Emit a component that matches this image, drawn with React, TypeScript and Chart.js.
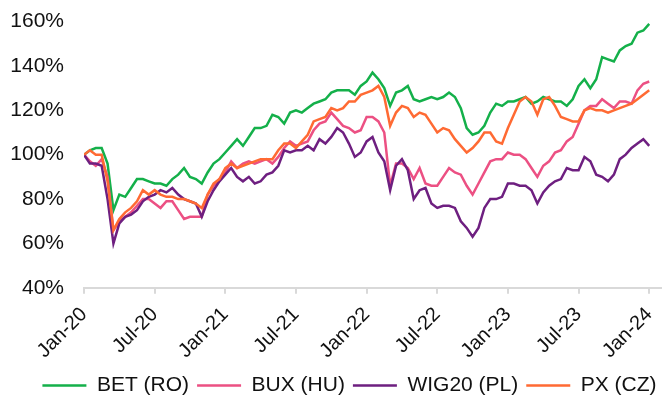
import React, { useEffect, useRef } from "react";
import { Chart, registerables } from "chart.js";

Chart.register(...registerables);

// Semi-monthly observations, Jan-2020 .. Jan-2024 (index i -> month i/2 since Jan-20)
const tickLabels = ["Jan-20", "Jul-20", "Jan-21", "Jul-21", "Jan-22", "Jul-22", "Jan-23", "Jul-23", "Jan-24"];

const betRO = [100, 102, 103, 103, 96, 75, 82, 81, 85, 89, 89, 88, 87, 87, 86, 89, 91, 94, 90, 89, 87, 92, 96, 98, 101, 104, 107, 104, 108, 112, 112, 113, 118, 117, 114, 119, 120, 119, 121, 123, 124, 125, 128, 129, 129, 129, 127, 131, 133, 137, 134, 130, 122, 128, 129, 131, 125, 124, 125, 126, 125, 126, 128, 126, 121, 112, 109, 110, 113, 119, 123, 122, 124, 124, 125, 126, 123, 124, 126, 125, 124, 124, 122, 125, 131, 134, 130, 134, 144, 143, 142, 147, 149, 150, 155, 156, 159];

const buxHU = [100, 97, 95, 98, 90, 66, 70, 72, 74, 77, 80, 80, 78, 76, 79, 79, 75, 71, 72, 72, 72, 82, 86, 89, 92, 97, 94, 96, 97, 96, 97, 98, 96, 99, 103, 106, 104, 105, 106, 111, 114, 115, 119, 116, 113, 112, 110, 111, 117, 117, 115, 110, 86, 96, 96, 94, 89, 94, 87, 86, 86, 90, 94, 92, 91, 86, 82, 87, 92, 97, 98, 98, 101, 100, 100, 98, 94, 90, 95, 97, 101, 102, 106, 108, 114, 120, 122, 122, 125, 123, 121, 124, 124, 123, 129, 132, 133];

const wig20PL = [100, 96, 96, 95, 80, 60, 69, 72, 73, 75, 79, 81, 82, 84, 83, 85, 82, 80, 79, 78, 72, 79, 84, 88, 91, 94, 90, 88, 90, 87, 88, 91, 92, 95, 102, 101, 102, 102, 104, 102, 107, 105, 108, 112, 110, 105, 99, 101, 106, 108, 101, 97, 84, 95, 98, 93, 80, 84, 85, 78, 76, 77, 77, 76, 70, 67, 63, 67, 76, 80, 80, 81, 87, 87, 86, 86, 84, 78, 83, 86, 88, 89, 94, 93, 93, 99, 97, 91, 90, 88, 91, 98, 100, 103, 105, 107, 104];

const pxCZ = [100, 102, 100, 100, 88, 66, 71, 74, 76, 79, 84, 82, 84, 82, 81, 81, 80, 80, 79, 78, 76, 82, 87, 89, 94, 96, 94, 95, 96, 97, 98, 98, 98, 102, 105, 105, 103, 106, 109, 115, 116, 117, 121, 120, 121, 124, 124, 127, 128, 129, 131, 126, 113, 119, 122, 121, 117, 119, 118, 114, 110, 112, 111, 107, 104, 101, 103, 106, 110, 110, 106, 105, 112, 118, 124, 126, 124, 118, 125, 126, 122, 117, 116, 115, 115, 120, 121, 120, 120, 119, 120, 121, 122, 123, 125, 127, 129];

const seriesNames = ["BET (RO)", "BUX (HU)", "WIG20 (PL)", "PX (CZ)"];
const seriesColors = ["#14b04a", "#ec5083", "#6e1f80", "#ff6a33"];

const toXY = (arr: number[]) => arr.map((v, i) => ({ x: i / 2, y: v }));

const legendShift = {
  id: "legendShift",
  afterLayout(chart: any) {
    const lg = chart.legend;
    if (lg) {
      lg.left += 14;
      lg.right += 14;
    }
  },
};

export default function App() {
  const ref = useRef<HTMLCanvasElement | null>(null);
  useEffect(() => {
    if (!ref.current) return;
    const font = "'Liberation Sans', Arial, sans-serif";
    const all = [betRO, buxHU, wig20PL, pxCZ];
    const chart = new Chart(ref.current, {
      type: "line",
      plugins: [legendShift],
      data: {
        datasets: all.map((arr, k) => ({
          label: seriesNames[k],
          data: toXY(arr),
          borderColor: seriesColors[k],
          backgroundColor: seriesColors[k],
          borderWidth: 2.5,
          pointRadius: 0,
          tension: 0,
          order: 4 - k,
        })),
      },
      options: {
        animation: false,
        responsive: true,
        maintainAspectRatio: false,
        parsing: false,
        layout: { padding: { left: 10, right: 3, top: 0, bottom: -5 } },
        plugins: {
          tooltip: { enabled: false },
          legend: {
            position: "bottom",
            labels: {
              sort: (a: any, b: any) => a.datasetIndex - b.datasetIndex,
              boxWidth: 44,
              boxHeight: 0,
              padding: 8,
              color: "#111",
              font: { size: 21, family: font },
            },
          },
        },
        scales: {
          x: {
            type: "linear",
            min: 0,
            max: 49,
            afterFit: (scale: any) => {
              scale.height = scale.height - 5;
              scale.paddingRight = 0;
              scale.paddingLeft = 0;
            },
            grid: { display: true, drawOnChartArea: false, drawTicks: true, tickLength: 6, color: "#d9d9d9", lineWidth: 2 },
            border: { display: true, color: "#d9d9d9", width: 2 },
            ticks: {
              stepSize: 6,
              includeBounds: false,
              autoSkip: false,
              maxRotation: 45,
              minRotation: 45,
              padding: 9,
              color: "#111",
              font: { size: 20, family: font },
              callback: (v: any) => {
                const idx = Number(v) / 6;
                return Number.isInteger(idx) ? tickLabels[idx] : null;
              },
            },
          },
          y: {
            min: 40,
            max: 160,
            afterFit: (scale: any) => {
              scale.width = 74;
            },
            grid: { display: false, drawTicks: true, tickLength: 11 },
            border: { display: false },
            ticks: {
              stepSize: 20,
              padding: 9,
              color: "#111",
              font: { size: 21, family: font },
              callback: (v: any) => v + "%",
            },
          },
        },
      },
    });
    return () => chart.destroy();
  }, []);
  return (
    <div style={{ position: "absolute", left: 0, top: 0, width: 664, height: 401 }}>
      <canvas ref={ref} />
    </div>
  );
}
